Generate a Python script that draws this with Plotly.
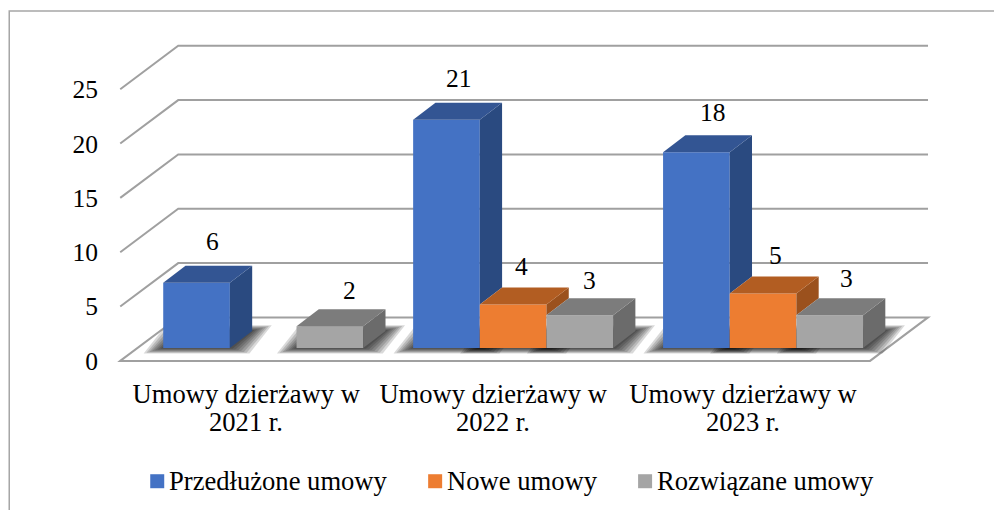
import plotly.graph_objects as go

CATEGORY_LINE1 = ["Umowy dzierżawy w", "Umowy dzierżawy w", "Umowy dzierżawy w"]
CATEGORY_LINE2 = ["2021 r.", "2022 r.", "2023 r."]
SERIES_NAMES = ["Przedłużone umowy", "Nowe umowy", "Rozwiązane umowy"]
PRZEDLUZONE = [6, 21, 18]
NOWE = [None, 4, 5]
ROZWIAZANE = [2, 3, 3]
Y_TICKS = [0, 5, 10, 15, 20, 25]

SERIES = [PRZEDLUZONE, NOWE, ROZWIAZANE]
FRONT = ["#4472C4", "#ED7D31", "#A5A5A5"]
TOP = ["#335593", "#B25D22", "#7C7C7C"]
SIDE = ["#2A4A80", "#9B511D", "#6B6B6B"]
LINE = "#A0A0A0"
FONT = "Liberation Serif"
FS_NUM = 25.5
FS_TXT = 26.6
LABEL_X = [0.504, 1.492, 2.492]            # label centres on the category axis

# pixel calibration of the oblique projection
PX_X, PX_Y = 250.0, 10.87
X0_PX, Y0_PX = 120.0, 360.6
XR = [-0.085, 3.3]
YR = [-1.3, 29.9]
WALL_X, WALL_Y = 58 / PX_X, 4.0            # floor depth in axis units
BAR_DX, BAR_DY = 0.072, 1.196              # start of bar inside the floor
BAR_W, DEPTH_X, DEPTH_Y = 0.2667, 0.0892, 1.564

L = X0_PX + XR[0] * PX_X
R = 994 - (X0_PX + XR[1] * PX_X)
T = Y0_PX - YR[1] * PX_Y
B = 510 - (Y0_PX - YR[0] * PX_Y)
PW, PH = 994 - L - R, 510 - T - B


def paper_x(px):
    return (px - L) / PW


def paper_y(py):
    return (510 - B - py) / PH


def path(points):
    return "M" + " L".join(f"{x:.4f},{y:.4f}" for x, y in points) + " Z"


shapes = []
# floor
shapes.append(dict(type="path", xref="x", yref="y", layer="below", fillcolor="white",
                   line=dict(color=LINE, width=2),
                   path=path([(0, 0), (WALL_X, WALL_Y), (3 + WALL_X, WALL_Y), (3, 0)])))
# wall gridlines
for v in Y_TICKS[1:]:
    shapes.append(dict(type="path", xref="x", yref="y", layer="below",
                       line=dict(color=LINE, width=2),
                       path=f"M0,{v} L{WALL_X:.4f},{v + WALL_Y} L{3 + WALL_X:.4f},{v + WALL_Y}"))
# soft shadows on the floor
for s, vals in enumerate(SERIES):
    for c, v in enumerate(vals):
        if v is None:
            continue
        x0 = c + 0.5 + (s - 1.5) * BAR_W + BAR_DX
        for k in range(1, 8):
            ex, ey = k * 2.8 / PX_X, k * 0.8 / PX_Y
            shapes.append(dict(type="path", xref="x", yref="y", layer="below",
                               fillcolor="rgba(0,0,0,0.15)", line=dict(width=0),
                               path=path([(x0 - ex, BAR_DY - ey), (x0 + DEPTH_X - ex, BAR_DY + DEPTH_Y + ey),
                                          (x0 + BAR_W + DEPTH_X + ex, BAR_DY + DEPTH_Y + ey),
                                          (x0 + BAR_W + ex, BAR_DY - ey)])))

fig = go.Figure()
for s, (name, vals) in enumerate(zip(SERIES_NAMES, SERIES)):
    fig.add_bar(name=name, x=[c + 0.5 + (s - 1) * BAR_W + BAR_DX for c in range(3)], y=vals,
                base=BAR_DY, width=BAR_W, marker=dict(color=FRONT[s], line=dict(width=0)),
                showlegend=False, hoverinfo="name+y")

# 3-D faces derived from the same values, drawn bar by bar from left to right
for c in range(3):
    for s, vals in enumerate(SERIES):
        v = vals[c]
        if v is None:
            continue
        x0 = c + 0.5 + (s - 1.5) * BAR_W + BAR_DX
        x1 = x0 + BAR_W
        y1 = BAR_DY + v
        nxt = SERIES[s + 1][c] if s < 2 else None
        low = BAR_DY + (nxt or 0)
        fig.add_scatter(x=[x1, x1 + DEPTH_X, x1 + DEPTH_X, x1, x1], y=[low, low + DEPTH_Y, y1 + DEPTH_Y, y1, low],
                        mode="lines", fill="toself", fillcolor=SIDE[s], line=dict(width=0),
                        showlegend=False, hoverinfo="skip")
        fig.add_scatter(x=[x0, x0 + DEPTH_X, x1 + DEPTH_X, x1, x0],
                        y=[y1, y1 + DEPTH_Y, y1 + DEPTH_Y, y1, y1],
                        mode="lines", fill="toself", fillcolor=TOP[s], line=dict(width=0),
                        showlegend=False, hoverinfo="skip")

# data labels, offsets in px from the front-top centre of each bar
LABEL_SHIFT = {(0, 0): (16, 41), (0, 2): (20, 36), (1, 0): (13, 41), (1, 1): (8, 38), (1, 2): (10, 35),
               (2, 0): (17, 40), (2, 1): (12, 38), (2, 2): (17, 37)}
annotations = []
for (c, s), (dx, dy) in LABEL_SHIFT.items():
    annotations.append(dict(x=c + 0.5 + (s - 1) * BAR_W + BAR_DX, y=BAR_DY + SERIES[s][c], xref="x", yref="y",
                            text=str(SERIES[s][c]), showarrow=False, xshift=dx, yshift=dy,
                            font=dict(family=FONT, size=FS_NUM, color="black")))

# second line of the category labels
for lx, line in zip(LABEL_X, CATEGORY_LINE2):
    annotations.append(dict(x=lx, xref="x", y=paper_y(422), yref="paper", yanchor="middle", text=line,
                            showarrow=False, font=dict(family=FONT, size=FS_TXT, color="black")))

# legend (swatch + text), in paper pixels
LEG_SWATCH = [150, 428, 638]
for name, col, px in zip(SERIES_NAMES, FRONT, LEG_SWATCH):
    shapes.append(dict(type="rect", xref="paper", yref="paper", layer="above", fillcolor=col, line=dict(width=0),
                       x0=paper_x(px), x1=paper_x(px + 14), y0=paper_y(488), y1=paper_y(474)))
    annotations.append(dict(xref="paper", yref="paper", x=paper_x(px + 19), y=paper_y(481),
                            xanchor="left", yanchor="middle", xshift=-2,
                            text=name, showarrow=False, font=dict(family=FONT, size=FS_TXT, color="black")))

# chart frame: left and top edges only are inside the picture
shapes.append(dict(type="path", xref="paper", yref="paper", layer="above", line=dict(color="#A6A6A6", width=1.5),
                   path=f"M{paper_x(9):.4f},{paper_y(512):.4f} L{paper_x(9):.4f},{paper_y(10.5):.4f} "
                        f"L{paper_x(996):.4f},{paper_y(10.5):.4f}"))

fig.update_layout(
    width=994, height=510, margin=dict(l=L, r=R, t=T, b=B, autoexpand=False),
    paper_bgcolor="white", plot_bgcolor="rgba(0,0,0,0)", barmode="overlay", showlegend=False,
    shapes=shapes, annotations=annotations, font=dict(family=FONT, size=FS_NUM, color="black"),
    xaxis=dict(range=XR, tickmode="array", tickvals=LABEL_X, ticktext=CATEGORY_LINE1, showgrid=False,
               zeroline=False, showline=False, ticks="", tickfont=dict(family=FONT, size=FS_TXT, color="black"),
               tickangle=0, automargin=False),
    yaxis=dict(range=YR, tickmode="array", tickvals=Y_TICKS, showgrid=False, zeroline=False, showline=False,
               ticks="", tickfont=dict(family=FONT, size=FS_NUM, color="black"), automargin=False),
)
fig.write_html("out.html", config=dict(displayModeBar=False),
               post_script="document.body.style.margin='0';document.documentElement.style.overflow='hidden';")
